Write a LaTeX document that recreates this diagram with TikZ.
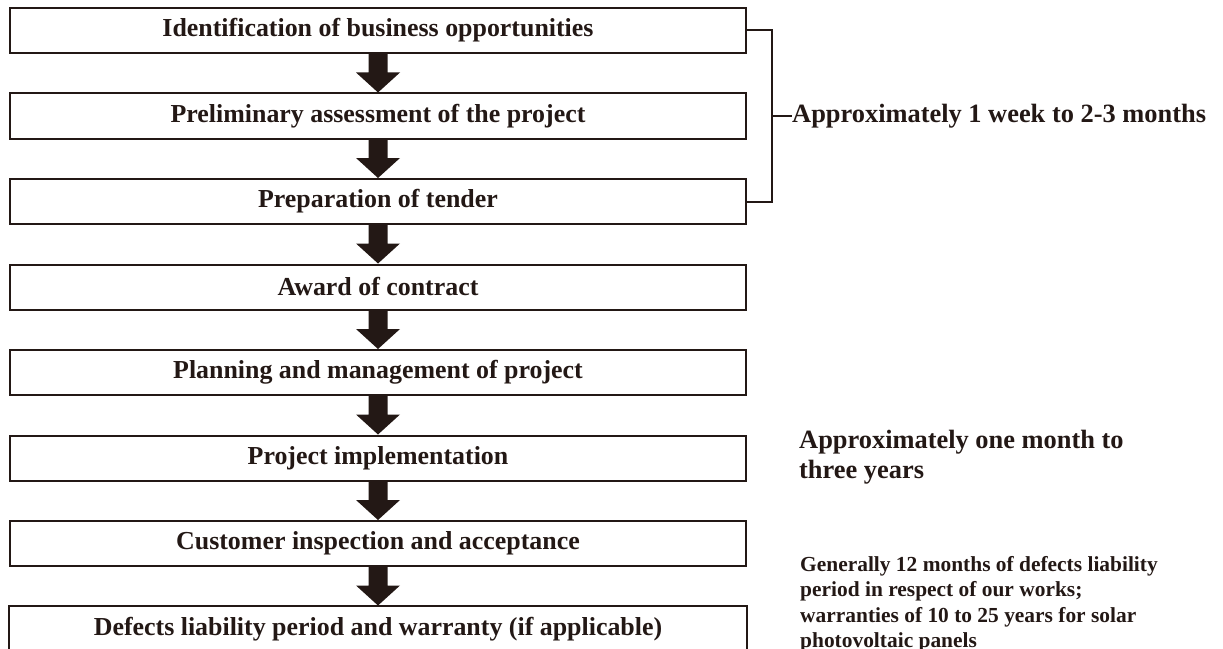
\documentclass[tikz,border=0pt]{standalone}
\usepackage{fontspec}
\setmainfont{Liberation Serif}
\usetikzlibrary{positioning,calc}
\definecolor{ink}{HTML}{231815}
\tikzset{
  stage/.style={draw=ink, line width=2bp, fill=white, minimum width=736bp,
    minimum height=45bp, inner sep=0pt, text=ink,
    font=\bfseries\fontsize{26}{30}\selectfont},
  note/.style={anchor=west, inner sep=0pt, align=left, text=ink,
    font=\bfseries\fontsize{26.5}{30}\selectfont},
  smallnote/.style={anchor=north west, inner sep=0pt, align=left, text=ink,
    font=\bfseries\fontsize{21.5}{25.5}\selectfont},
  bracket/.style={draw=ink, line width=2bp},
}
% block arrow from one stage down to the next
\newcommand{\flowarrow}[2]{%
  \fill[ink] ([xshift=-9.5bp]#1.south) -- ([xshift=9.5bp]#1.south)
    -- ([xshift=9.5bp,yshift=20bp]#2.north) -- ([xshift=22bp,yshift=20bp]#2.north)
    -- (#2.north) -- ([xshift=-22bp,yshift=20bp]#2.north)
    -- ([xshift=-9.5bp,yshift=20bp]#2.north) -- cycle;}
\begin{document}
\begin{tikzpicture}[x=1bp,y=-1bp,node distance=38.5bp]
\useasboundingbox (0,0) rectangle (1223,649);
%% stages
\node[stage] (ident) at (378,30.5) {Identification of business opportunities};
\node[stage, below=of ident] (prelim) {Preliminary assessment of the project};
\node[stage, below=of prelim] (tender) {Preparation of tender};
\node[stage, below=of tender] (award) {Award of contract};
\node[stage, below=of award] (plan) {Planning and management of project};
\node[stage, below=of plan] (impl) {Project implementation};
\node[stage, below=of impl] (accept) {Customer inspection and acceptance};
\node[stage, draw=none, below=of accept] (defects) {Defects liability period and warranty (if applicable)};
\draw[bracket] ([yshift=-20bp]defects.south west) |- (defects.north east) -- ([yshift=-20bp]defects.south east);
%% arrows
\foreach \a/\b in {ident/prelim, prelim/tender, tender/award, award/plan,
                   plan/impl, impl/accept, accept/defects}
  \flowarrow{\a}{\b};
%% durations
\draw[bracket] (ident.east) -- ++(25,0) coordinate (brtop) |- (tender.east);
\coordinate (brmid) at ($(brtop)!0.5!(brtop |- tender.east)$);
\node[note] (weeks) at ($(brmid)+(20,0)$) {Approximately 1 week to 2-3 months};
\draw[bracket] (brmid) -- (weeks.west);
\node[note] (years) at (799,457) {Approximately one month to\\three years};
\node[smallnote] (warranty) at (800,556) {Generally 12 months of defects liability\\
  period in respect of our works;\\warranties of 10 to 25 years for solar\\photovoltaic panels};
\end{tikzpicture}
\end{document}
